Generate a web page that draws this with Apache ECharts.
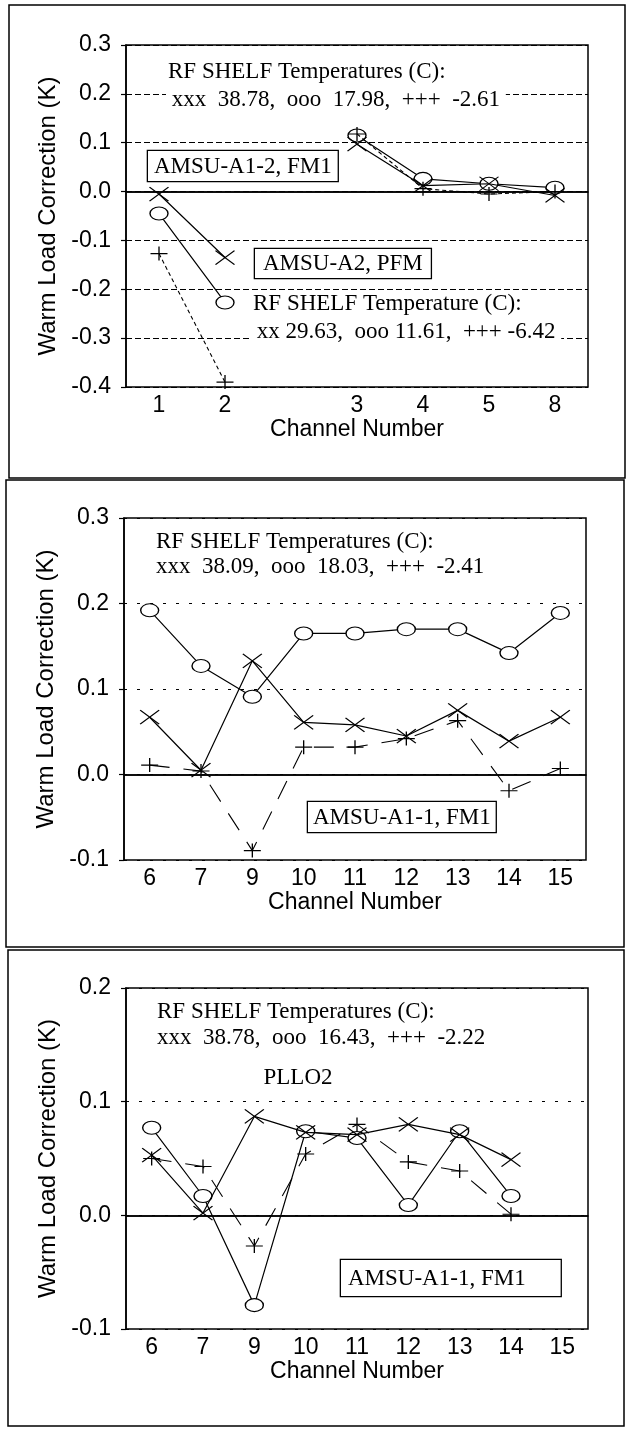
<!DOCTYPE html>
<html>
<head>
<meta charset="utf-8">
<script src="https://cdn.jsdelivr.net/npm/echarts@6/dist/echarts.min.js"></script>
<style>
  html, body { margin: 0; padding: 0; background: #fff; }
  #chart { width: 627px; height: 1429px; }
</style>
</head>
<body>
<div id="chart"></div>
<script>
// ---- Panel 1: AMSU-A2 PFM (channels 1-2) and AMSU-A1-2 FM1 (channels 3-8)
const channels1 = ['1', '2', '', '3', '4', '5', '8'];
const hotX1  = [-0.005, -0.135, null, 0.097, 0.012, 0.016, -0.008];
const midO1  = [-0.045, -0.227, null, 0.115, 0.026, 0.016, 0.008];
const coldP1 = [-0.127, -0.390, null, 0.118, 0.006, -0.005, 0.000];
const yRange1 = [-0.4, 0.3];

// ---- Panel 2: AMSU-A1-1 FM1
const channels2 = ['6', '7', '9', '10', '11', '12', '13', '14', '15'];
const hotX2  = [0.067, 0.005, 0.133, 0.061, 0.058, 0.045, 0.075, 0.039, 0.067];
const midO2  = [0.192, 0.127, 0.091, 0.165, 0.165, 0.170, 0.170, 0.142, 0.189];
const coldP2 = [0.011, 0.004, -0.089, 0.032, 0.032, 0.042, 0.063, -0.019, 0.007];
const yRange2 = [-0.1, 0.3];

// ---- Panel 3: AMSU-A1-1 FM1, PLLO2
const channels3 = ['6', '7', '9', '10', '11', '12', '13', '14', '15'];
const hotX3  = [0.053, 0.002, 0.087, 0.073, 0.071, 0.080, 0.071, 0.049, null];
const midO3  = [0.077, 0.017, -0.079, 0.074, 0.068, 0.009, 0.074, 0.017, null];
const coldP3 = [0.050, 0.043, -0.027, 0.054, 0.080, 0.047, 0.039, 0.001, null];
const yRange3 = [-0.1, 0.2];

const SANS = '"Liberation Sans", Arial, sans-serif';
const SERIF = '"Liberation Serif", "Times New Roman", serif';
const INK = '#000';

const grids = [
  { left: 126, top: 45,  width: 462, height: 342 },
  { left: 124, top: 518, width: 462, height: 342 },
  { left: 126, top: 988, width: 462, height: 341 }
];
const panelChannels = [channels1, channels2, channels3];
const panelRanges = [yRange1, yRange2, yRange3];
const gridDash = [[6, 3], [3, 10], [3, 10]];

// Marker shapes: open ellipse, diagonal cross, upright plus
const SYM_O = 'path://M0,10 A10,10 0 1,1 20,10 A10,10 0 1,1 0,10 Z';
const SYM_X = 'path://M0,0 L10,10 M10,0 L0,10';
const SYM_P = 'path://M5,0 L5,10 M0,5 L10,5';

function mainXAxis(i) {
  return {
    type: 'category', gridIndex: i, data: panelChannels[i], position: 'bottom',
    name: 'Channel Number', nameLocation: 'middle', nameGap: 31,
    nameTextStyle: { fontFamily: SANS, fontSize: 23, color: INK },
    axisLine: { lineStyle: { color: INK, width: 1.5 } },
    axisTick: { alignWithLabel: true, length: 6, lineStyle: { color: INK, width: 1.2 } },
    axisLabel: { fontFamily: SANS, fontSize: 23, color: INK, margin: 7, interval: 0 },
    splitLine: { show: false }
  };
}
// Companion axis that draws the upward half of each tick mark
function tickXAxis(i) {
  return {
    type: 'category', gridIndex: i, data: panelChannels[i], position: 'top',
    offset: -grids[i].height,
    axisLine: { show: false },
    axisTick: { alignWithLabel: true, length: 6, lineStyle: { color: INK, width: 1.2 } },
    axisLabel: { show: false },
    splitLine: { show: false }
  };
}
function yAxisFor(i) {
  return {
    type: 'value', gridIndex: i, min: panelRanges[i][0], max: panelRanges[i][1], interval: 0.1,
    name: 'Warm Load Correction (K)', nameLocation: 'middle', nameGap: 59,
    nameTextStyle: { fontFamily: SANS, fontSize: 24, color: INK },
    axisLine: { show: true, lineStyle: { color: INK, width: 1.5 } },
    axisTick: { show: true, length: 5, lineStyle: { color: INK, width: 1.2 } },
    axisLabel: { fontFamily: SANS, fontSize: 23, color: INK, margin: 15,
                 formatter: v => v.toFixed(1) },
    splitLine: { show: true, lineStyle: { color: INK, width: 1, type: gridDash[i] } }
  };
}

function series(i, data, kind) {
  const base = {
    type: 'line', xAxisIndex: i, yAxisIndex: i, data: data,
    showAllSymbol: true, connectNulls: false, animation: false, silent: true,
    itemStyle: { color: '#fff', borderColor: INK, borderWidth: 1.2 },
    emphasis: { disabled: true }
  };
  if (kind === 'o') {
    Object.assign(base, {
      symbol: SYM_O, symbolSize: [18, 13], z: 2,
      lineStyle: { color: INK, width: 1.2, type: 'solid' },
      markLine: {
        silent: true, symbol: 'none', label: { show: false }, animation: false,
        lineStyle: { color: INK, width: 1.5, type: 'solid' },
        data: [{ yAxis: 0 }]
      }
    });
  } else if (kind === 'x') {
    Object.assign(base, {
      symbol: SYM_X, symbolSize: [19, 14], z: 3,
      lineStyle: { color: INK, width: 1.2, type: 'solid' }
    });
  } else {
    Object.assign(base, {
      symbol: SYM_P, symbolSize: [17, 14], z: 4,
      lineStyle: { color: INK, width: 1.1, type: i === 0 ? [4, 3] : [20, 14] }
    });
  }
  return base;
}

function label(x, y, text, extra) {
  return {
    type: 'text', x: x, y: y, z: 100, silent: true,
    style: Object.assign({
      text: text, font: '23px ' + SERIF, fill: INK,
      align: 'left', verticalAlign: 'middle'
    }, extra || {})
  };
}
function boxed(x, y, text, padding) {
  return label(x, y, text, {
    verticalAlign: 'top', lineHeight: 23, padding: padding,
    backgroundColor: '#fff', borderColor: INK, borderWidth: 1.3
  });
}
function frame(x, y, w, h) {
  return { type: 'rect', z: 100, silent: true, shape: { x: x, y: y, width: w, height: h },
           style: { fill: 'none', stroke: INK, lineWidth: 1.5 } };
}

const graphics = [
  frame(9, 5, 616, 473),
  frame(6, 480, 618, 467),
  frame(8, 950, 616, 476),

  label(168, 72, 'RF SHELF Temperatures (C):'),
  label(166, 100, ' xxx  38.78,  ooo  17.98,  +++  -2.61 ', { backgroundColor: '#fff' }),
  boxed(148, 151, 'AMSU-A1-2, FM1', [4, 6, 3, 6]),
  boxed(255, 249, 'AMSU-A2, PFM', [3, 8, 3, 8]),
  label(253, 304, 'RF SHELF Temperature (C):'),
  label(251, 332, ' xx 29.63,  ooo 11.61,  +++ -6.42 ', { backgroundColor: '#fff' }),

  label(156, 542, 'RF SHELF Temperatures (C):'),
  label(156, 567, 'xxx  38.09,  ooo  18.03,  +++  -2.41'),
  boxed(308, 802, 'AMSU-A1-1, FM1', [4, 5, 3, 5]),

  label(157, 1012, 'RF SHELF Temperatures (C):'),
  label(157, 1038, 'xxx  38.78,  ooo  16.43,  +++  -2.22'),
  label(298, 1078, 'PLLO2', { align: 'center' }),
  boxed(341, 1260, 'AMSU-A1-1, FM1', [7, 35, 6, 7])
];

const chart = echarts.init(document.getElementById('chart'), null, { renderer: 'canvas' });
chart.setOption({
  animation: false,
  backgroundColor: '#fff',
  grid: grids.map(g => Object.assign({ show: true, borderColor: INK, borderWidth: 1.5,
                                       backgroundColor: 'transparent' }, g)),
  xAxis: [mainXAxis(0), mainXAxis(1), mainXAxis(2), tickXAxis(0), tickXAxis(1), tickXAxis(2)],
  yAxis: [yAxisFor(0), yAxisFor(1), yAxisFor(2)],
  series: [
    series(0, midO1, 'o'), series(0, hotX1, 'x'), series(0, coldP1, 'p'),
    series(1, midO2, 'o'), series(1, hotX2, 'x'), series(1, coldP2, 'p'),
    series(2, midO3, 'o'), series(2, hotX3, 'x'), series(2, coldP3, 'p')
  ],
  graphic: graphics
});
</script>
</body>
</html>
